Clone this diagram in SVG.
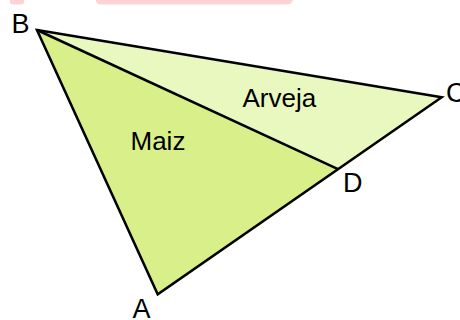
<svg xmlns="http://www.w3.org/2000/svg" width="460" height="320" viewBox="0 0 460 320">
<style>
.lbl{font-family:"Liberation Sans",Arial,sans-serif;font-size:27px;fill:#000}
.txt{font-family:"Liberation Sans",Arial,sans-serif;font-size:26px;fill:#000}
.edge{stroke:#000;stroke-width:2.5;fill:none;stroke-linejoin:miter}
</style>
<rect width="460" height="320" fill="#fff"/>
<g id="topbar">
<path d="M10,0 H24 V2 Q24,4.5 21,4.5 H13 Q10,4.5 10,2 Z" fill="#fdd3d3"/>
<path d="M96,0 H293 Q292,4.5 286,4.5 H102 Q96,4.5 96,1 Z" fill="#fdd3d3"/>
</g>
<g id="region-arveja">
<polygon points="37,30 441.7,97.3 338,169.2" fill="#e8f8bf"/>
</g>
<g id="region-maiz">
<polygon points="37,30 338,169.2 157.7,294.3" fill="#d9ef8a"/>
</g>
<g id="connectors">
<polygon class="edge" points="37,30 441.7,97.3 157.7,294.3"/>
<line class="edge" x1="37" y1="30" x2="338" y2="169.2"/>
</g>
<g id="labels">
<text class="lbl" x="11.5" y="32.7">B</text>
<text class="lbl" x="446" y="101.7">C</text>
<text class="lbl" x="343" y="191.7">D</text>
<text class="lbl" x="132.5" y="318.3">A</text>
<text class="txt" x="130.5" y="150">Maiz</text>
<text class="txt" x="242.5" y="106.7">Arveja</text>
</g>
</svg>
